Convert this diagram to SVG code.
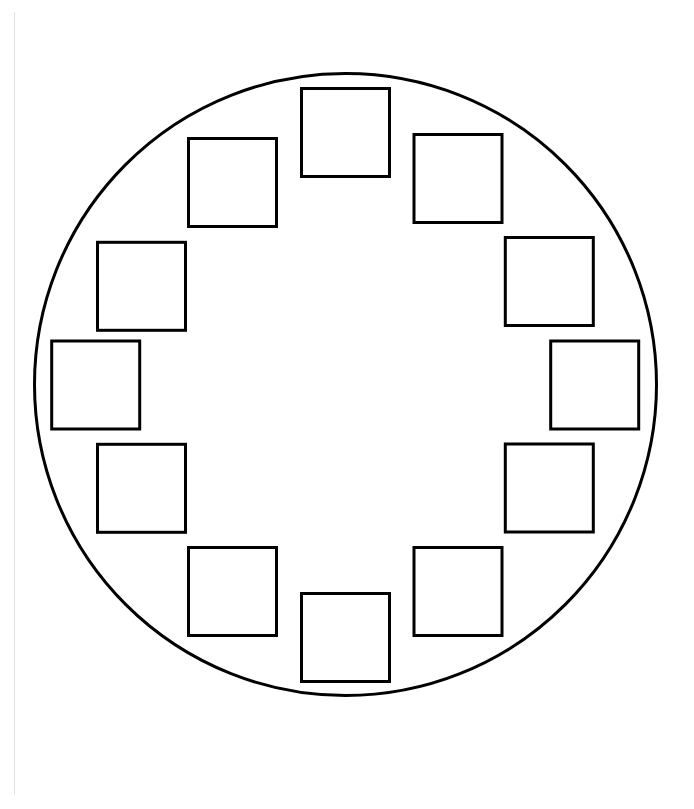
<svg xmlns="http://www.w3.org/2000/svg" width="694" height="809" viewBox="0 0 694 809">
  <style>
    .box { fill: #ffffff; stroke: #000000; stroke-width: 3; }
    .ring { fill: #ffffff; stroke: #000000; stroke-width: 3; }
  </style>
  <rect x="0" y="0" width="694" height="809" fill="#ffffff"/>
  <line x1="14.5" y1="12" x2="14.5" y2="795" stroke="#e3e3e3" stroke-width="1"/>
  <g id="outer-circle">
    <circle class="ring" cx="345.5" cy="384.5" r="311"/>
  </g>
  <g id="node-top"><rect class="box" x="301.5" y="88.5" width="88" height="88"/></g>
  <g id="node-1"><rect class="box" x="414" y="134.5" width="88" height="88"/></g>
  <g id="node-2"><rect class="box" x="505.3" y="237.5" width="88" height="88"/></g>
  <g id="node-3"><rect class="box" x="550.7" y="341" width="88" height="88"/></g>
  <g id="node-4"><rect class="box" x="505.3" y="444" width="88" height="88"/></g>
  <g id="node-5"><rect class="box" x="414" y="547.5" width="88" height="88"/></g>
  <g id="node-6"><rect class="box" x="301.5" y="593.5" width="88" height="88"/></g>
  <g id="node-7"><rect class="box" x="188.5" y="547.5" width="88" height="88"/></g>
  <g id="node-8"><rect class="box" x="97.5" y="444.3" width="88" height="88"/></g>
  <g id="node-9"><rect class="box" x="51.7" y="341" width="88" height="88"/></g>
  <g id="node-10"><rect class="box" x="97.5" y="242.3" width="88" height="88"/></g>
  <g id="node-11"><rect class="box" x="188.5" y="138.5" width="88" height="88"/></g>
  <g id="connectors"></g>
</svg>
